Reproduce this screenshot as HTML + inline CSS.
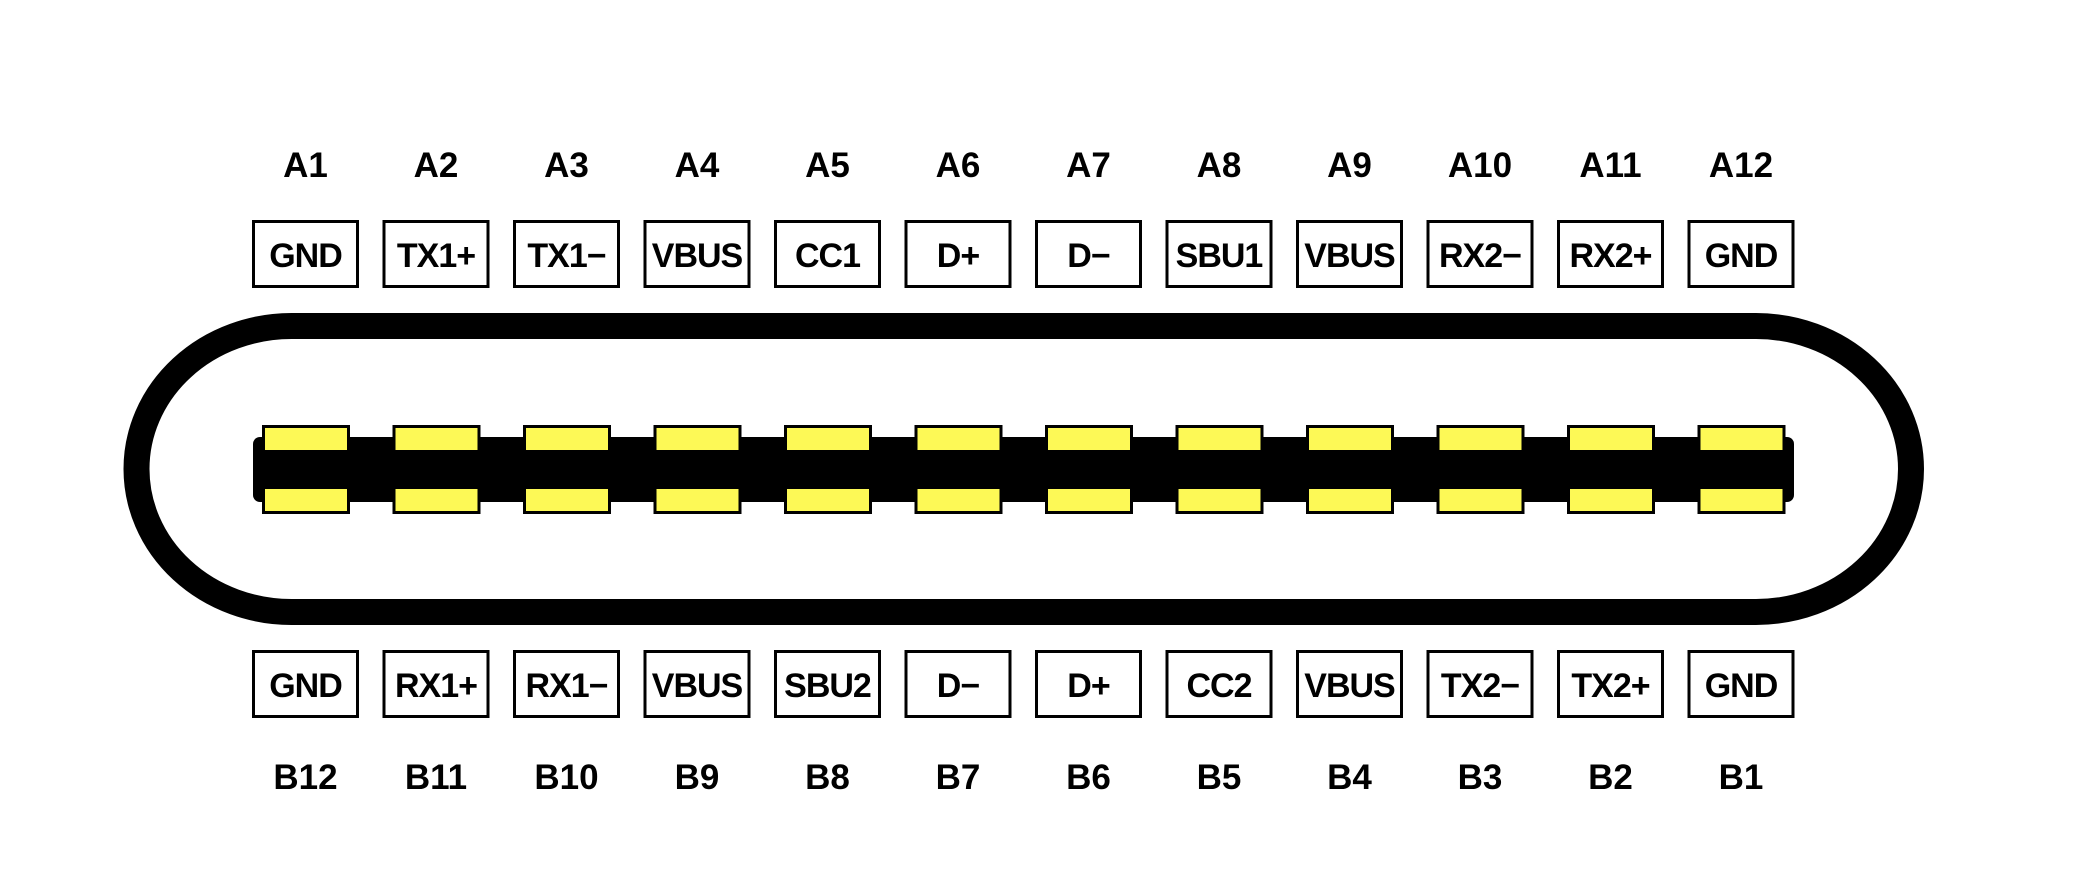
<!DOCTYPE html>
<html><head><meta charset="utf-8"><style>
html,body{margin:0;padding:0;background:#fff;}
svg{display:block;}
text{font-family:"Liberation Sans",Arial,sans-serif;font-weight:bold;fill:#000;text-anchor:middle;}
</style></head><body>
<svg width="2086" height="878" viewBox="0 0 2086 878" xmlns="http://www.w3.org/2000/svg">
<rect x="136.5" y="326" width="1774.5" height="286" rx="155" ry="143" fill="none" stroke="#000" stroke-width="26"/>
<rect x="253" y="437" width="1541" height="65" rx="7" fill="#000"/>
<g id="pads"></g>
<g id="boxes"></g>
</svg>
<script>
var A=["GND","TX1+","TX1\u2212","VBUS","CC1","D+","D\u2212","SBU1","VBUS","RX2\u2212","RX2+","GND"];
var B=["GND","RX1+","RX1\u2212","VBUS","SBU2","D\u2212","D+","CC2","VBUS","TX2\u2212","TX2+","GND"];
var BL=["B12","B11","B10","B9","B8","B7","B6","B5","B4","B3","B2","B1"];
var ns="http://www.w3.org/2000/svg";
var svg=document.querySelector("svg");
function el(t,a,txt){var e=document.createElementNS(ns,t);for(var k in a)e.setAttribute(k,a[k]);if(txt)e.textContent=txt;svg.appendChild(e);return e;}
for(var i=0;i<12;i++){
 var x=252+i*130.5, cx=x+53.5;
 el("rect",{x:x+10+1.5,y:426.5,width:85,height:25,fill:"#fdf956",stroke:"#000","stroke-width":3});
 el("rect",{x:x+10+1.5,y:487.5,width:85,height:25,fill:"#fdf956",stroke:"#000","stroke-width":3});
 el("rect",{x:x+1.5,y:221.5,width:104,height:65,fill:"#fff",stroke:"#000","stroke-width":3});
 el("rect",{x:x+1.5,y:651.5,width:104,height:65,fill:"#fff",stroke:"#000","stroke-width":3});
 el("text",{x:cx,y:177,"font-size":35},"A"+(i+1));
 el("text",{x:cx,y:267,"font-size":34,"letter-spacing":"-1"},A[i]);
 el("text",{x:cx,y:697,"font-size":34,"letter-spacing":"-1"},B[i]);
 el("text",{x:cx,y:789,"font-size":35},BL[i]);
}
</script>
</body></html>
